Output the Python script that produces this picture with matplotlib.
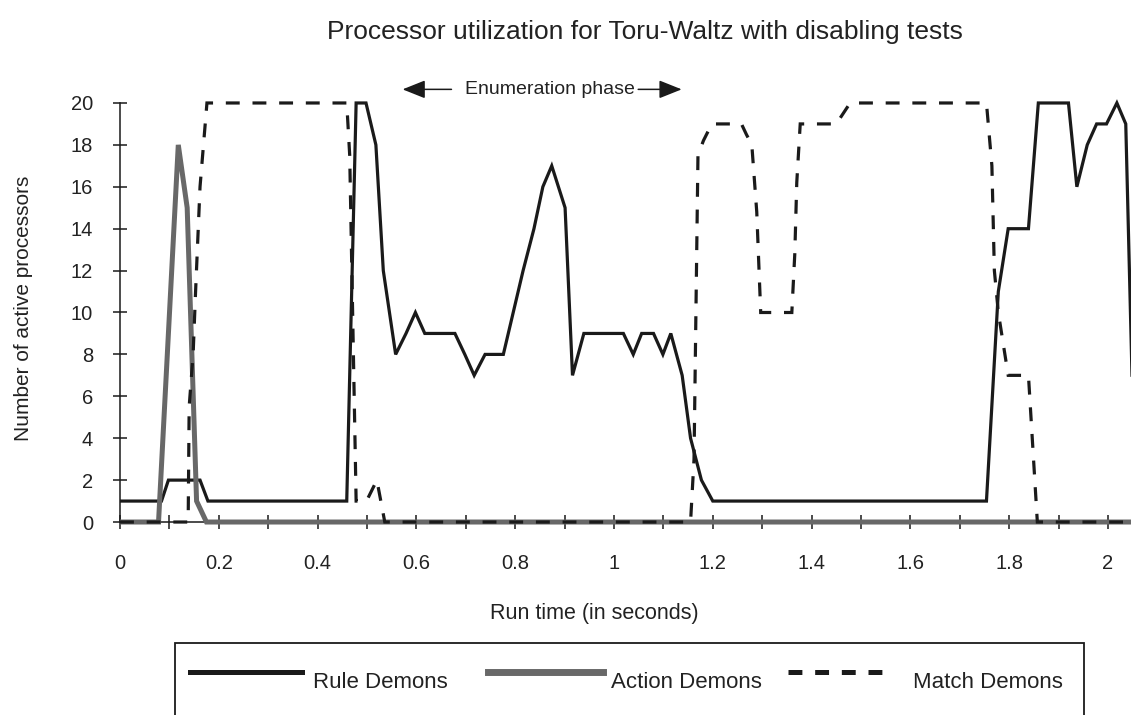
import matplotlib
matplotlib.use("Agg")
import matplotlib.pyplot as plt
from matplotlib.ticker import MultipleLocator, FuncFormatter
from matplotlib.lines import Line2D
from matplotlib.patches import Rectangle, ArrowStyle

plt.rcParams['font.family'] = ['Liberation Sans', 'DejaVu Sans']
plt.rcParams['lines.scale_dashes'] = False

# ---------------- data ----------------
rule_t = [0, 0.084, 0.098, 0.162, 0.178, 0.459, 0.478, 0.498, 0.518, 0.533,
          0.558, 0.579, 0.598, 0.617, 0.678, 0.698, 0.717, 0.739, 0.776, 0.796,
          0.816, 0.838, 0.856, 0.874, 0.901, 0.916, 0.939, 1.019, 1.039, 1.056,
          1.080, 1.099, 1.115, 1.138, 1.155, 1.177, 1.200, 1.754, 1.778, 1.798,
          1.839, 1.859, 1.920, 1.937, 1.958, 1.977, 1.997, 2.018, 2.036, 2.056]
rule_v = [1, 1, 2, 2, 1, 1, 20, 20, 18, 12,
          8, 9, 10, 9, 9, 8, 7, 8, 8, 10,
          12, 14, 16, 17, 15, 7, 9, 9, 8, 9,
          9, 8, 9, 7, 4, 2, 1, 1, 11, 14,
          14, 20, 20, 16, 18, 19, 19, 20, 19, 0]

action_t = [0, 0.078, 0.118, 0.136, 0.155, 0.175, 2.06]
action_v = [0, 0, 18, 15, 1, 0, 0]

match_t = [0, 0.138, 0.140, 0.148, 0.153, 0.162, 0.176, 0.459, 0.465, 0.478,
           0.499, 0.520, 0.536, 1.155, 1.162, 1.170, 1.181, 1.198, 1.258, 1.268,
           1.279, 1.289, 1.297, 1.360, 1.366, 1.370, 1.377, 1.450, 1.478, 1.754,
           1.765, 1.770, 1.778, 1.798, 1.839, 1.857, 2.06]
match_v = [0, 0, 5.5, 8, 11, 16, 20, 20, 17.5, 1,
           1, 2, 0, 0, 3, 17.5, 18.2, 19, 19, 18.5,
           18, 14.8, 10, 10, 12.8, 16.2, 19, 19, 20, 20,
           17, 12, 10, 7, 7, 0, 0]

series_names = ["Rule Demons", "Action Demons", "Match Demons"]
title = "Processor utilization for Toru-Waltz with disabling tests"
xlabel = "Run time (in seconds)"
ylabel = "Number of active processors"
phase_label = "Enumeration phase"

# ---------------- figure ----------------
W, H = 1131, 715
fig = plt.figure(figsize=(W / 100, H / 100), dpi=100)

def fx(px):
    return px / W

def fy(py):
    return 1 - py / H

ax = fig.add_axes([fx(120), fy(528.3), 1011 / W, 433.7 / H])
ax.set_xlim(0, 2.0466)
ax.set_ylim(-0.3, 20.4)

BLACK = "#1a1a1a"
GRAY = "#686868"
DASH = (0, (10, 9.2))

ax.plot(rule_t, rule_v, color=BLACK, lw=2.3, zorder=3, solid_joinstyle='miter')
ax.plot(action_t, action_v, color=GRAY, lw=3.6, zorder=4, solid_joinstyle='miter')
ax.plot(match_t, match_v, color=BLACK, lw=2.3, linestyle=DASH, zorder=5,
        dash_capstyle='butt', dash_joinstyle='miter')

for s in ['top', 'right']:
    ax.spines[s].set_visible(False)
ax.spines['left'].set_bounds(0, 20)
ax.spines['bottom'].set_position(('data', 0))
for s in ['left', 'bottom']:
    ax.spines[s].set_linewidth(1.1)
    ax.spines[s].set_color(BLACK)

ax.xaxis.set_major_locator(MultipleLocator(0.1))
ax.xaxis.set_major_formatter(FuncFormatter(
    lambda v, p: ("%g" % round(v, 1)) if round(v * 10) % 2 == 0 else ""))
ax.set_yticks(range(0, 21, 2))

ax.tick_params(axis='both', direction='inout', length=10, width=1.1,
               colors=BLACK, labelsize=14.5, labelcolor="#222222")
ax.tick_params(axis='x', pad=18)
ax.tick_params(axis='y', pad=14.5)

ax.set_xlabel(xlabel, fontsize=15.5, color="#222222")
ax.xaxis.set_label_coords((594 - 120) / 1011, (528.3 - 614) / 433.7)
ax.xaxis.label.set_va('center')
ax.set_ylabel(ylabel, fontsize=15, color="#222222")
ax.yaxis.set_label_coords(-(120 - 24) / 1011, (528.3 - 308) / 433.7)
ax.yaxis.label.set_va('center')

fig.text(fx(645), fy(32), title, ha='center', va='center', fontsize=19,
         color="#222222")

# Enumeration phase annotation
ax.text(0.870, 20.65, phase_label, ha='center', va='center', fontsize=14,
        color="#222222", clip_on=False)
astyle = ArrowStyle('-|>', head_length=1.0, head_width=0.4)
ax.annotate("", xy=(0.572, 20.65), xytext=(0.671, 20.65),
            arrowprops=dict(arrowstyle=astyle, lw=1.1, color=BLACK,
                            shrinkA=0, shrinkB=0, mutation_scale=14),
            annotation_clip=False)
ax.annotate("", xy=(1.137, 20.65), xytext=(1.049, 20.65),
            arrowprops=dict(arrowstyle=astyle, lw=1.1, color=BLACK,
                            shrinkA=0, shrinkB=0, mutation_scale=14),
            annotation_clip=False)

# ---------------- legend (drawn as in the original box) ----------------
fig.add_artist(Rectangle((fx(175), fy(760)), fx(1084) - fx(175), fy(643) - fy(760),
                         transform=fig.transFigure, fill=False, ec=BLACK, lw=1.3))
leg_items = [
    (series_names[0], dict(color=BLACK, lw=3.6), 190, 301.7, 313.3),
    (series_names[1], dict(color=GRAY, lw=5.0), 488.3, 603.3, 610.7),
    (series_names[2], dict(color=BLACK, lw=3.6, linestyle=DASH,
                           dash_capstyle='butt'), 787.7, 881.7, 912.7),
]
for name, style, x0, x1, xt in leg_items:
    fig.add_artist(Line2D([fx(x0), fx(x1)], [fy(671.7), fy(671.7)],
                          transform=fig.transFigure, **style))
    fig.text(fx(xt), fy(688), name, ha='left', va='baseline', fontsize=16,
             color="#222222")

fig.savefig("out.png", dpi=100)
